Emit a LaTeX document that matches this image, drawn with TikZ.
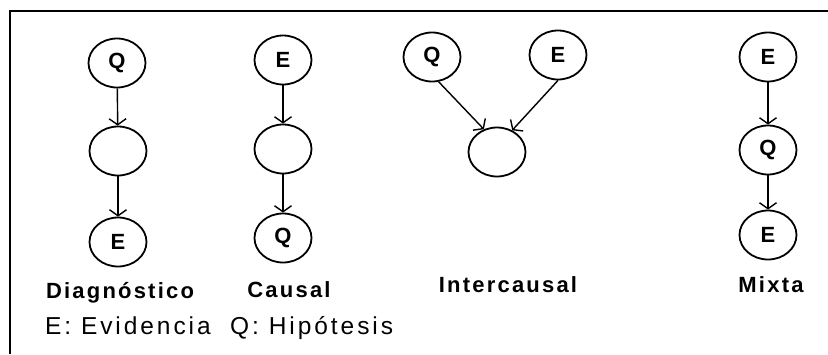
\documentclass[tikz,border=0pt]{standalone}
\usepackage{fontspec}
\setmainfont{Liberation Sans}
\newfontfamily\labfont[LetterSpace=10]{Liberation Sans}
\newfontfamily\legfont[LetterSpace=12]{Liberation Sans}
\usetikzlibrary{shapes.geometric,arrows.meta}
\begin{document}
\begin{tikzpicture}[x=1pt,y=-1pt,
  nd/.style={draw,ellipse,line width=1.8pt,minimum width=57pt,minimum height=49pt,inner sep=0pt,font=\fontsize{22}{24}\selectfont\bfseries},
  arr/.style={line width=1.4pt,-{Straight Barb[length=6pt,width=17pt,line width=1.4pt]}},
  lab/.style={font=\labfont\fontsize{22}{26}\selectfont\bfseries,inner sep=0pt},
  leg/.style={font=\legfont\fontsize{24.5}{26}\selectfont,inner sep=0pt,anchor=west}]
\useasboundingbox (0,0) rectangle (828,354);
\draw[line width=2.5pt] (10,354) -- (10,11) -- (828,11);
% Diagnostico
\node[nd] (d1) at (117,63) {Q};
\node[nd] (d2) at (118,151) {};
\node[nd] (d3) at (118,242) {E};
\draw[arr] (d1) -- (d2);
\draw[arr] (d2) -- (d3);
% Causal
\node[nd] (c1) at (283,60) {E};
\node[nd] (c2) at (283,149) {};
\node[nd] (c3) at (283,238) {Q};
\draw[arr] (c1) -- (c2);
\draw[arr] (c2) -- (c3);
% Intercausal
\node[nd] (i1) at (432,57) {Q};
\node[nd] (i2) at (558,55) {E};
\node[nd] (i3) at (497,152) {};
\draw[arr] (i1.-75) -- (i3.120);
\draw[arr] (i2.-90) -- (i3.55);
% Mixta
\node[nd] (m1) at (768,57) {E};
\node[nd] (m2) at (768,150) {Q};
\node[nd] (m3) at (768,235) {E};
\draw[arr] (m1) -- (m2);
\draw[arr] (m2) -- (m3);
% labels
\node[lab] (l1) at (120,293) {Diagnóstico};
\node[lab] (l2) at (289,290) {Causal};
\node[lab] (l3) at (508,285) {Intercausal};
\node[lab] (l4) at (771,285) {Mixta};
\node[leg] (lg) at (45,328) {E: Evidencia\ \ Q: Hipótesis};
\end{tikzpicture}
\end{document}
